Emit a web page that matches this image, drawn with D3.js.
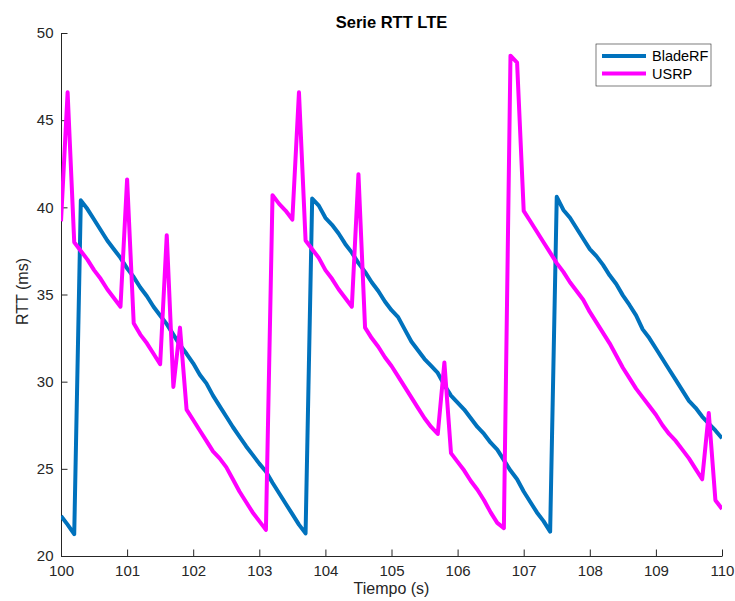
<!DOCTYPE html>
<html>
<head>
<meta charset="utf-8">
<script src="https://cdn.jsdelivr.net/npm/d3@7"></script>
<style>
  html, body { margin: 0; padding: 0; background: #fff; }
  svg { display: block; font-family: "Liberation Sans", Arial, Helvetica, sans-serif; }
</style>
</head>
<body>
<div id="chart"></div>
<script>
// sampling times (s), 0.1 s step
const times = d3.range(0, 101).map(i => 100 + i / 10);

const bladeRF = [
  22.3, 21.8, 21.25, 40.4, 39.9, 39.3, 38.7, 38.1, 37.6, 37.1,
  36.5, 36.0, 35.4, 34.9, 34.3, 33.8, 33.3, 32.7, 32.1, 31.6,
  31.05, 30.4, 29.9, 29.2, 28.6, 28.0, 27.4, 26.85, 26.3, 25.8,
  25.3, 24.85, 24.2, 23.6, 23.0, 22.4, 21.8, 21.3, 40.5, 40.1,
  39.4, 39.0, 38.5, 37.9, 37.4, 36.8, 36.3, 35.7, 35.2, 34.6,
  34.1, 33.7, 33.0, 32.3, 31.8, 31.3, 30.9, 30.5, 29.8, 29.2,
  28.8, 28.4, 27.9, 27.4, 27.0, 26.5, 26.1, 25.5, 24.9, 24.4,
  23.7, 23.1, 22.5, 22.0, 21.4, 40.6, 39.85, 39.4, 38.8, 38.2,
  37.6, 37.2, 36.7, 36.1, 35.6, 34.95, 34.4, 33.8, 33.0, 32.5,
  31.9, 31.3, 30.7, 30.1, 29.5, 28.9, 28.5, 28.0, 27.6, 27.2,
  26.75
];

const usrp = [
  39.2, 46.6, 38.0, 37.5, 37.0, 36.4, 35.9, 35.3, 34.8, 34.3,
  41.6, 33.35, 32.7, 32.2, 31.6, 31.0, 38.4, 29.7, 33.1, 28.4,
  27.8, 27.2, 26.6, 26.0, 25.6, 25.1, 24.4, 23.7, 23.1, 22.5,
  22.0, 21.5, 40.7, 40.2, 39.8, 39.3, 46.6, 38.1, 37.6, 37.1,
  36.4, 35.9, 35.3, 34.8, 34.3, 41.9, 33.1, 32.5, 32.0, 31.4,
  30.9, 30.3, 29.7, 29.1, 28.5, 27.9, 27.4, 27.0, 31.1, 25.9,
  25.4, 24.9, 24.3, 23.8, 23.2, 22.5, 21.9, 21.6, 48.7, 48.3,
  39.8, 39.2, 38.6, 38.0, 37.4, 36.8, 36.3, 35.7, 35.2, 34.7,
  34.0, 33.4, 32.8, 32.2, 31.5, 30.8, 30.2, 29.6, 29.1, 28.6,
  28.1, 27.5, 27.0, 26.6, 26.1, 25.6, 25.0, 24.4, 28.2, 23.2,
  22.7
];

const seriesNames = ['BladeRF', 'USRP'];
const seriesColors = ['#0072BD', '#FF00FF'];
const xTicks = [100, 101, 102, 103, 104, 105, 106, 107, 108, 109, 110];
const yTicks = [20, 25, 30, 35, 40, 45, 50];

const W = 735, H = 601;
const margin = { top: 33, right: 13, bottom: 45, left: 61 };
const width = W - margin.left - margin.right;
const height = H - margin.top - margin.bottom;
const axisColor = '#262626';

const svg = d3.select('#chart').append('svg')
  .attr('width', W)
  .attr('height', H);

const g = svg.append('g')
  .attr('transform', `translate(${margin.left},${margin.top})`);

const x = d3.scaleLinear().domain([100, 110]).range([0, width]);
const y = d3.scaleLinear().domain([20, 50]).range([height, 0]);

// clip
svg.append('defs').append('clipPath').attr('id', 'clip')
  .append('rect').attr('width', width).attr('height', height);

// X axis (ticks inward)
const xAxis = g.append('g')
  .attr('transform', `translate(0,${height})`)
  .call(d3.axisBottom(x).tickValues(xTicks).tickSize(-6.5).tickPadding(15).tickSizeOuter(0));

// Y axis (ticks inward)
const yAxis = g.append('g')
  .call(d3.axisLeft(y).tickValues(yTicks).tickSize(-6.5).tickPadding(7.5).tickSizeOuter(0));

[xAxis, yAxis].forEach(a => {
  a.select('.domain').attr('stroke', axisColor).attr('stroke-width', 1);
  a.selectAll('.tick line').attr('stroke', axisColor).attr('stroke-width', 1);
  a.selectAll('.tick text').attr('fill', axisColor).attr('font-size', 15);
});
xAxis.selectAll('.tick text').attr('dy', '0.35em');

// lines
const series = [bladeRF, usrp];
const line = d3.line()
  .x((d, i) => x(times[i]))
  .y(d => y(d));

const plot = g.append('g').attr('clip-path', 'url(#clip)');
series.forEach((s, k) => {
  plot.append('path')
    .datum(s)
    .attr('fill', 'none')
    .attr('stroke', seriesColors[k])
    .attr('stroke-width', 4)
    .attr('stroke-linejoin', 'round')
    .attr('d', line);
});

// title + labels
svg.append('text')
  .attr('x', margin.left + width / 2)
  .attr('y', 28)
  .attr('text-anchor', 'middle')
  .attr('font-size', 16.5)
  .attr('font-weight', 'bold')
  .attr('fill', '#000')
  .text('Serie RTT LTE');

svg.append('text')
  .attr('x', margin.left + width / 2)
  .attr('y', 594)
  .attr('text-anchor', 'middle')
  .attr('font-size', 16)
  .attr('fill', axisColor)
  .text('Tiempo (s)');

svg.append('text')
  .attr('transform', `translate(28,${margin.top + height / 2 - 3}) rotate(-90)`)
  .attr('text-anchor', 'middle')
  .attr('font-size', 16)
  .attr('fill', axisColor)
  .text('RTT (ms)');

// legend
const legend = svg.append('g').attr('transform', 'translate(596,44)');
legend.append('rect')
  .attr('width', 115)
  .attr('height', 42)
  .attr('fill', '#fff')
  .attr('stroke', '#262626')
  .attr('stroke-width', 0.6);

seriesNames.forEach((name, i) => {
  const ly = 12 + i * 17.5;
  legend.append('line')
    .attr('x1', 6).attr('x2', 50)
    .attr('y1', ly).attr('y2', ly)
    .attr('stroke', seriesColors[i])
    .attr('stroke-width', 4);
  legend.append('text')
    .attr('x', 56)
    .attr('y', ly)
    .attr('dy', '0.35em')
    .attr('font-size', 14.5)
    .attr('fill', '#000')
    .text(name);
});
</script>
</body>
</html>
